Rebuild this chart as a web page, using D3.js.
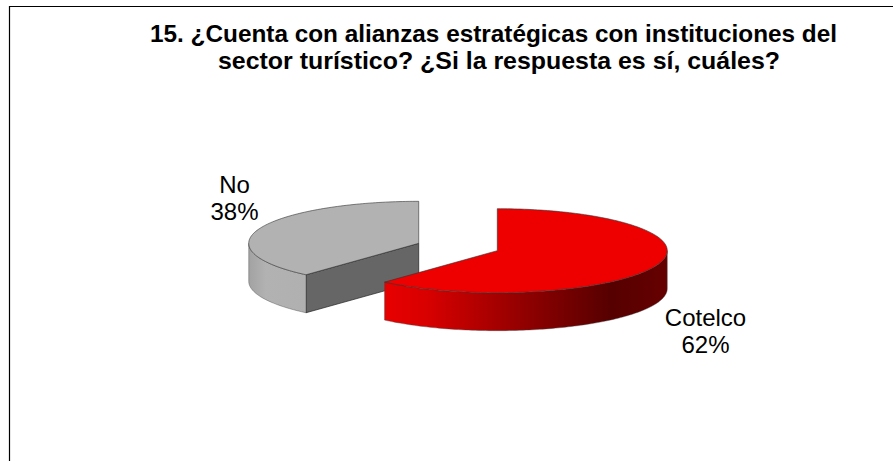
<!DOCTYPE html>
<html>
<head>
<meta charset="utf-8">
<script src="https://cdn.jsdelivr.net/npm/d3@7"></script>
<style>
  html, body { margin: 0; padding: 0; background: #fff; }
  svg { display: block; }
  text { font-family: "Liberation Sans", Arial, sans-serif; fill: #000; }
</style>
</head>
<body>
<svg id="chart" width="893" height="461"></svg>
<script>
var titleLines = ["15. ¿Cuenta con alianzas estratégicas con instituciones del",
                  "sector turístico? ¿Si la respuesta es sí, cuáles?"];
var categories = ["Cotelco", "No"];
var values = [8, 5];   // the 62% / 38% split fits 8 of 13 answers

var svgWidth = 893, svgHeight = 461;
var cx = 458, cy = 247;      // middle of the pie before exploding
var rx = 170, ry = 42;       // the tilted top is an ellipse
var depth = 38;
var explode = 42;

var svg = d3.select("#chart");

// frame: only top and left edges are visible in the crop
svg.append("path")
  .attr("d", "M9.5," + svgHeight + "V6.5H" + svgWidth)
  .attr("fill", "none")
  .attr("stroke", "#000")
  .attr("stroke-width", 1.2);

var defs = svg.append("defs");

function wallGradient(id, stops) {
  var g = defs.append("linearGradient").attr("id", id)
    .attr("x1", "0%").attr("x2", "100%").attr("y1", "0%").attr("y2", "0%");
  stops.forEach(function(s) {
    g.append("stop").attr("offset", s[0]).attr("stop-color", s[1]);
  });
}
wallGradient("redWall", [[0, "#e80000"], [0.15, "#d80000"], [0.5, "#900000"], [0.8, "#560000"], [1, "#660000"]]);
wallGradient("greyWall", [[0, "#a2a2a2"], [0.3, "#b2b2b2"], [1, "#b0b0b0"]]);

var sliceStyles = [
  { top: "#ee0000", wall: "url(#redWall)", face: "#660000" },
  { top: "#b2b2b2", wall: "url(#greyWall)", face: "#666666" }
];

var pie = d3.pie().sort(null);
var arcs = pie(values);
var pct = d3.format(".0%");
var total = d3.sum(values);

// draw the grey one first, the red slice sits over its cut face
d3.range(arcs.length).reverse().forEach(function(i) {
  var d = arcs[i];
  var mid = (d.startAngle + d.endAngle) / 2;
  var ox = cx + explode * Math.sin(mid);
  var oy = cy - explode * Math.cos(mid) * ry / rx;

  function px(a) { return ox + rx * Math.sin(a); }
  function py(a) { return oy - ry * Math.cos(a); }

  var g = svg.append("g").attr("class", "slice");
  var line = d3.line().x(function(a) { return px(a); }).y(function(a) { return py(a); });

  // cut face, only the one that looks at the viewer
  if (i === 1) {
    var a0 = d.startAngle;
    g.append("path")
      .attr("d", "M" + ox + "," + oy + "L" + px(a0) + "," + py(a0) +
                 "L" + px(a0) + "," + (py(a0) + depth) + "L" + ox + "," + (oy + depth) + "Z")
      .attr("fill", sliceStyles[i].face)
      .attr("stroke", "#222")
      .attr("stroke-width", 0.7);
  }

  // outer wall, front half of the rim
  var from = Math.max(d.startAngle, Math.PI / 2);
  var to = Math.min(d.endAngle, Math.PI * 1.5);
  var rim = d3.range(from, to, 0.02).concat([to]);
  var rimTop = line(rim);
  var rimBottom = d3.line().x(function(a) { return px(a); }).y(function(a) { return py(a) + depth; })(rim.slice().reverse());
  g.append("path")
    .attr("d", rimTop + "L" + rimBottom.slice(1) + "Z")
    .attr("fill", sliceStyles[i].wall)
    .attr("stroke", "#444")
    .attr("stroke-width", 0.4);

  // tilted top
  var edge = d3.range(d.startAngle, d.endAngle, 0.02).concat([d.endAngle]);
  g.append("path")
    .attr("d", "M" + ox + "," + oy + "L" + line(edge).slice(1) + "Z")
    .attr("fill", sliceStyles[i].top)
    .attr("stroke", "#333")
    .attr("stroke-width", 0.6);
});

// title lines were stretched a bit in the original, so force their widths
var titleX = [493.5, 499];
var titleW = [687, 562];
svg.selectAll("text.title")
  .data(titleLines)
  .enter().append("text")
  .attr("class", "title")
  .attr("x", function(d, i) { return titleX[i]; })
  .attr("y", function(d, i) { return 42 + i * 26.5; })
  .attr("text-anchor", "middle")
  .attr("font-size", 24)
  .attr("font-weight", "bold")
  .attr("textLength", function(d, i) { return titleW[i]; })
  .attr("lengthAdjust", "spacingAndGlyphs")
  .text(function(d) { return d; });

// data labels sit just outside the slices
var labelPos = [[705.5, 326], [234.5, 193]];
categories.forEach(function(c, i) {
  var t = svg.append("text")
    .attr("x", labelPos[i][0])
    .attr("y", labelPos[i][1])
    .attr("text-anchor", "middle")
    .attr("font-size", 24);
  t.append("tspan").attr("x", labelPos[i][0]).text(c);
  t.append("tspan").attr("x", labelPos[i][0]).attr("dy", 27).text(pct(values[i] / total));
});
</script>
</body>
</html>
